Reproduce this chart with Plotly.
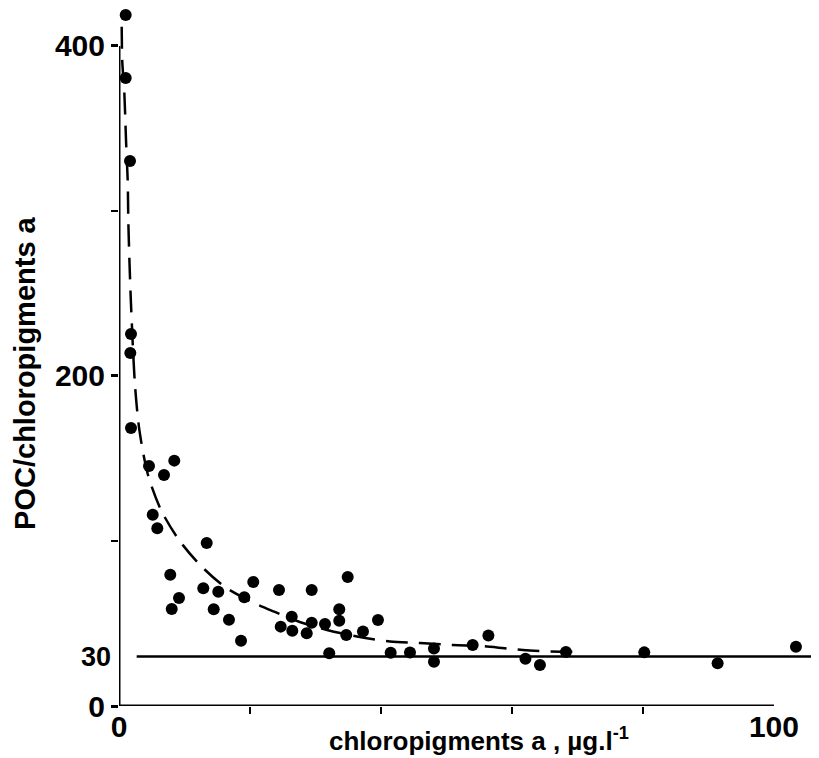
import plotly.graph_objects as go

# Observed points (chloropigments a, POC/chloropigments a)
chl = [1.02, 1.02, 1.68, 1.83, 1.73, 1.83, 4.58, 6.87, 8.44, 5.15, 5.85, 13.39,
       7.83, 9.16, 8.05, 12.87, 15.16, 14.46, 16.79, 18.63, 19.13, 20.5, 24.43,
       24.69, 26.37, 26.46, 28.66, 29.42, 29.42, 31.45, 32.1, 33.63, 33.63, 34.7,
       34.92, 37.25, 39.54, 41.48, 44.43, 48.09, 48.09, 54.0, 56.4, 62.06, 64.27,
       68.24, 80.2, 91.4, 103.36]
ratio = [418.8, 380.6, 330.3, 225.5, 213.9, 168.5, 145.5, 140.0, 148.7, 115.9, 107.7, 98.8,
         79.6, 65.5, 58.8, 71.3, 69.3, 58.6, 52.3, 39.6, 65.9, 75.2, 70.3,
         48.1, 54.1, 45.6, 44.1, 70.3, 50.5, 49.7, 31.9, 58.6, 51.7, 43.0,
         78.2, 45.2, 52.1, 32.3, 32.4, 34.8, 26.8, 37.0, 42.7, 28.6, 24.8,
         32.7, 32.5, 25.9, 35.9]

# Fitted dashed curve
curve_x = [0.41, 0.50, 0.81, 1.07, 1.33, 1.42, 1.60, 1.83, 2.44, 3.13, 4.43, 6.41,
           9.16, 12.37, 16.18, 20.3, 23.8, 27.6, 31.76, 36.34, 41.37, 45.95, 50.99,
           56.18, 61.68, 67.48, 69.3]
curve_y = [411.7, 390.5, 372.1, 343.0, 318.2, 294.5, 269.1, 243.6, 194.5, 166.7, 140.0, 118.8,
           100.6, 85.5, 72.1, 63.0, 57.0, 50.9, 46.1, 42.1, 39.1, 38.2, 37.0,
           36.1, 33.9, 32.9, 32.9]

# Reference level
ref_level = 30
ref_x = [2.7, 108.1]

x_range = [0, 108.1]
y_range = [0, 423.0]
x_tickvals = [0, 100]
x_ticktext = ["0", "100"]
x_minor = [20, 40, 60, 80]
y_tickvals = [0, 200, 400]
y_ticktext = ["0", "200", "400"]
y_minor = [100, 300]

FONT = "Liberation Sans, Arial, sans-serif"

fig = go.Figure()
fig.add_trace(go.Scatter(x=ref_x, y=[ref_level, ref_level], mode="lines",
                         line=dict(color="black", width=2.5), hoverinfo="skip",
                         showlegend=False, cliponaxis=False))
fig.add_trace(go.Scatter(x=curve_x, y=curve_y, mode="lines",
                         line=dict(color="black", width=2.5, dash="22px,11px",
                                   shape="spline", smoothing=0.8),
                         showlegend=False, cliponaxis=False))
fig.add_trace(go.Scatter(x=chl, y=ratio, mode="markers",
                         marker=dict(color="black", size=12),
                         showlegend=False, cliponaxis=False))

# axis lines (only up to 100 / 400)
fig.add_shape(type="line", x0=0, x1=100, y0=0, y1=0, xref="x", yref="y",
              line=dict(color="black", width=3))
fig.add_shape(type="line", x0=0, x1=0, y0=0, y1=400, xref="x", yref="y",
              line=dict(color="black", width=3))

fig.update_xaxes(range=x_range, showgrid=False, zeroline=False, showline=False,
                 tickmode="array", tickvals=x_tickvals, ticktext=x_ticktext,
                 ticks="", ticklen=0,
                 minor=dict(tickmode="array", tickvals=x_minor, ticks="outside",
                            ticklen=7, tickwidth=2, tickcolor="black"),
                 tickfont=dict(family=FONT, size=30, color="black", weight="bold"))
fig.update_yaxes(range=y_range, showgrid=False, zeroline=False, showline=False,
                 tickmode="array", tickvals=y_tickvals, ticktext=y_ticktext,
                 ticks="outside", ticklen=7, tickwidth=2.5, tickcolor="black",
                 minor=dict(tickmode="array", tickvals=y_minor, ticks="outside",
                            ticklen=7, tickwidth=2, tickcolor="black"),
                 tickfont=dict(family=FONT, size=30, color="black", weight="bold"))

fig.add_annotation(x=0, y=ref_level, xref="x", yref="y", text="30", showarrow=False,
                   xanchor="right", yanchor="middle", xshift=-6,
                   font=dict(family=FONT, size=27, color="black", weight="bold"))
fig.add_annotation(x=0.509, y=-0.0487, xref="paper", yref="paper",
                   text="chloropigments a , µg.l<sup>-1</sup>", showarrow=False,
                   xanchor="center", yanchor="middle",
                   font=dict(family=FONT, size=26, color="black", weight="bold"))
fig.add_annotation(x=-0.133, y=0.477, xref="paper", yref="paper",
                   text="POC/chloropigments a", showarrow=False, textangle=-90,
                   xanchor="center", yanchor="middle",
                   font=dict(family=FONT, size=29, color="black", weight="bold"))

# page body adds an 8px offset; margins compensate so the axes sit where the reference has them
fig.update_layout(width=819, height=758, margin=dict(l=111, r=0, t=0, b=60),
                  plot_bgcolor="white", paper_bgcolor="white")

fig.write_html("out.html")
